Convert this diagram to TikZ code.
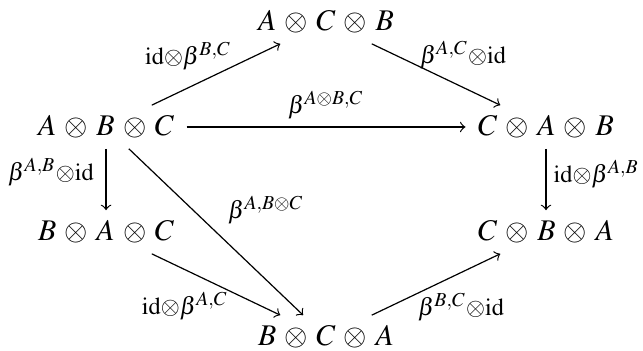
\documentclass[tikz,border=0pt]{standalone}
\usepackage{mathptmx}
\usepackage{amsmath}

\begin{document}
\begin{tikzpicture}[x=2.577cm, y=1.23cm,
  obj/.style={inner xsep=4pt, inner ysep=3.3pt, execute at begin node={\medmuskip=5mu}},
  lbl/.style={inner sep=0pt, font=\fontsize{11}{13}\selectfont}]
\useasboundingbox (-0.482,-2.133) rectangle (2.441,1.2095);

% Objects
\node[obj] (acb) at (1,1) {$A \otimes C \otimes B$};
\node[obj] (abc) at (0,0) {$A \otimes B \otimes C$};
\node[obj] (cab) at (2,0) {$C \otimes A \otimes B$};
\node[obj] (bac) at (0,-1) {$B \otimes A \otimes C$};
\node[obj] (cba) at (2,-1) {$C \otimes B \otimes A$};
\node[obj] (bca) at (1,-2) {$B \otimes C \otimes A$};

% Arrows
\draw[->] (abc) -- (acb);
\draw[->] (acb) -- (cab);
\draw[->] (abc) -- (cab);
\draw[->] (abc) -- (bac);
\draw[->] (cab) -- (cba);
\draw[->] (abc) -- (bca);
\draw[->] (bac) -- (bca);
\draw[->] (bca) -- (cba);

% Labels
\node[lbl] (l1) at (0.373,0.676) {$\scriptstyle \mathrm{id}\otimes\beta^{B,C}$};
\node[lbl] (l2) at (1.623,0.686) {$\scriptstyle \beta^{A,C}\otimes\mathrm{id}$};
\node[lbl] (l3) at (1.0,0.21) {$\scriptstyle \beta^{A\otimes B,C}$};
\node[lbl] (l4) at (-0.25,-0.429) {$\scriptstyle \beta^{A,B}\otimes\mathrm{id}$};
\node[lbl, anchor=west] (l5) at (2.032,-0.448) {$\scriptstyle \mathrm{id}\otimes\beta^{A,B}$};
\node[lbl] (l6) at (0.727,-0.790) {$\scriptstyle \beta^{A,B\otimes C}$};
\node[lbl] (l7) at (0.359,-1.705) {$\scriptstyle \mathrm{id}\otimes\beta^{A,C}$};
\node[lbl] (l8) at (1.614,-1.714) {$\scriptstyle \beta^{B,C}\otimes\mathrm{id}$};
\end{tikzpicture}
\end{document}
